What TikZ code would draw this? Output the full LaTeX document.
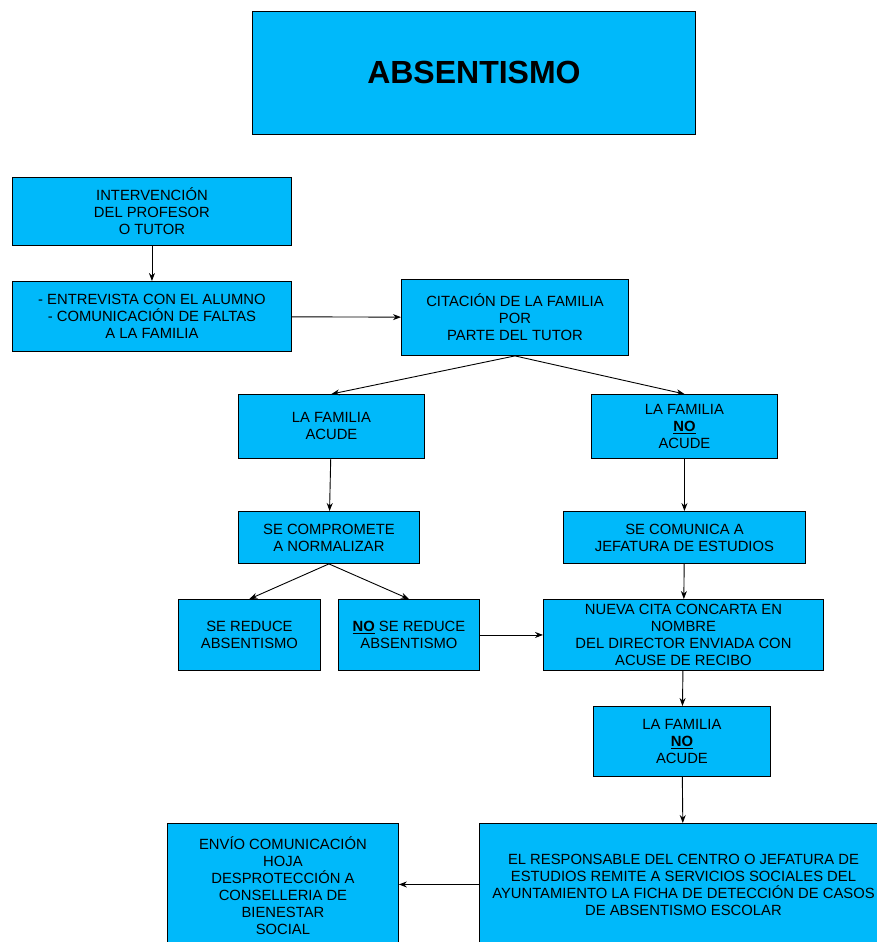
\documentclass[tikz,border=0pt]{standalone}
\usepackage{fontspec}
\setmainfont{Liberation Sans}
\usetikzlibrary{arrows.meta}
\definecolor{cajaazul}{RGB}{0,185,250}
\tikzset{
  caja/.style={draw,fill=cajaazul,line width=0.9pt,align=center,inner sep=2pt,anchor=north west,
    font=\fontsize{14.8}{17}\selectfont},
  flecha/.style={-{Stealth[length=8pt,width=6pt]},line width=0.9pt}
}
\newcommand{\nobold}{\underline{\textbf{NO}}}
\begin{document}
\begin{tikzpicture}[x=1pt,y=-1pt]
  \useasboundingbox (0,0) rectangle (877,942);
  \clip (0,0) rectangle (877,942);
  %% titulo
  \node[caja,minimum width=443pt,minimum height=123pt,font=\fontsize{32}{36}\selectfont\bfseries] (titulo) at (252,11) {ABSENTISMO};
  %% columna izquierda
  \node[caja,minimum width=279pt,minimum height=68pt] (interv) at (12,177) {INTERVENCI\'ON\\DEL PROFESOR\\O TUTOR};
  \node[caja,minimum width=279pt,minimum height=70pt] (entrev) at (12,281) {- ENTREVISTA CON EL ALUMNO\\- COMUNICACI\'ON DE FALTAS\\A LA FAMILIA};
  \node[caja,minimum width=227pt,minimum height=76pt] (citac) at (401,279) {CITACI\'ON DE LA FAMILIA\\POR\\PARTE DEL TUTOR};
  %% familia acude
  \node[caja,minimum width=186pt,minimum height=64pt] (acude) at (238,394) {LA FAMILIA\\ACUDE};
  \node[caja,minimum width=181pt,minimum height=52pt] (compr) at (238,511) {SE COMPROMETE\\A NORMALIZAR};
  \node[caja,minimum width=142pt,minimum height=71pt] (reduce) at (178,599) {SE REDUCE\\ABSENTISMO};
  \node[caja,minimum width=141pt,minimum height=71pt] (noreduce) at (338,599) {\nobold{} SE REDUCE\\ABSENTISMO};
  %% familia no acude
  \node[caja,minimum width=186pt,minimum height=64pt] (noacude) at (591,394) {LA FAMILIA\\\nobold\\ACUDE};
  \node[caja,minimum width=242pt,minimum height=52pt] (comunica) at (563,511) {SE COMUNICA A\\JEFATURA DE ESTUDIOS};
  \node[caja,minimum width=280pt,minimum height=71pt] (nueva) at (543,599) {NUEVA CITA CONCARTA EN\\NOMBRE\\DEL DIRECTOR ENVIADA CON\\ACUSE DE RECIBO};
  \node[caja,minimum width=177pt,minimum height=70pt] (noacudedos) at (593,706) {LA FAMILIA\\\nobold\\ACUDE};
  %% parte inferior
  \node[caja,minimum width=408pt,minimum height=122pt] (remite) at (479,823) {EL RESPONSABLE DEL CENTRO O JEFATURA DE\\ESTUDIOS REMITE A SERVICIOS SOCIALES DEL\\AYUNTAMIENTO LA FICHA DE DETECCI\'ON DE CASOS\\DE ABSENTISMO ESCOLAR};
  \node[caja,minimum width=231pt,minimum height=124pt] (envio) at (167,823) {ENV\'IO COMUNICACI\'ON\\HOJA\\DESPROTECCI\'ON A\\CONSELLERIA DE\\BIENESTAR\\SOCIAL};
  %% flechas
  \draw[flecha] (interv) -- (entrev);
  \draw[flecha] (entrev) -- (citac);
  \draw[flecha] (citac.south) -- (acude.north);
  \draw[flecha] (citac.south) -- (noacude.north);
  \draw[flecha] (acude) -- (compr);
  \draw[flecha] (compr.south) -- (reduce.north);
  \draw[flecha] (compr.south) -- (noreduce.north);
  \draw[flecha] (noacude) -- (comunica);
  \draw[flecha] (comunica) -- (nueva);
  \draw[flecha] (noreduce.east) -- (noreduce.east -| nueva.west);
  \draw[flecha] (nueva) -- (noacudedos);
  \draw[flecha] (noacudedos) -- (remite);
  \draw[flecha] (remite.west) -- (remite.west -| envio.east);
\end{tikzpicture}
\end{document}
